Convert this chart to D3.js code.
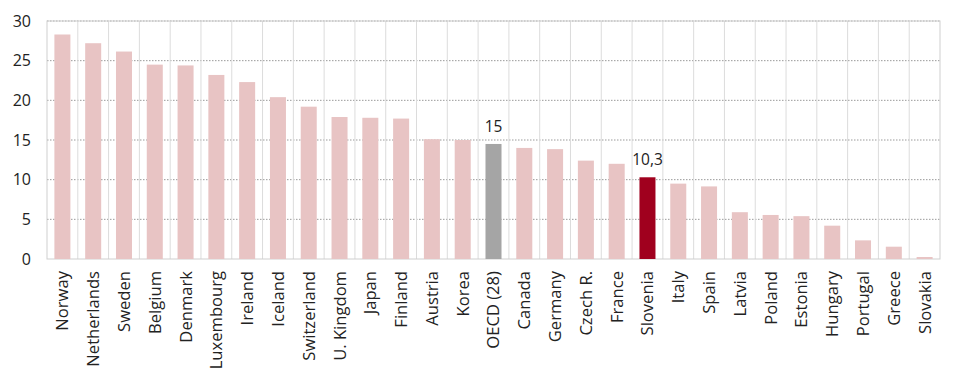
<!DOCTYPE html>
<html><head><meta charset="utf-8">
<script src="https://cdn.jsdelivr.net/npm/d3@7"></script>
<style>body{margin:0;background:#fff}text{font-family:"Open Sans","Noto Sans",sans-serif;fill:#222}</style>
</head><body><svg id="c" width="960" height="381"></svg>
<script>
const categories = ["Norway","Netherlands","Sweden","Belgium","Denmark","Luxembourg","Ireland","Iceland","Switzerland","U. Kingdom","Japan","Finland","Austria","Korea","OECD (28)","Canada","Germany","Czech R.","France","Slovenia","Italy","Spain","Latvia","Poland","Estonia","Hungary","Portugal","Greece","Slovakia"];
const values = [28.3,27.2,26.15,24.5,24.4,23.2,22.3,20.4,19.2,17.9,17.8,17.7,15.1,15.0,14.5,14.0,13.85,12.4,12.0,10.3,9.5,9.15,5.9,5.55,5.4,4.2,2.35,1.55,0.25];
const yTicks = [0,5,10,15,20,25,30];
const highlight = {"OECD (28)":{color:"#a5a5a5",label:"15"},"Slovenia":{color:"#a0001e",label:"10,3"}};

const svg = d3.select("#c");
const m = {l:47, r:20, t:21, b:122};
const W = 960, H = 381;
const x = d3.scaleBand().domain(categories).range([m.l, W-m.r]).paddingInner(0.48).paddingOuter(0.24);
const y = d3.scaleLinear().domain([0,30]).range([H-m.b, m.t]);

// horizontal dotted gridlines
svg.append("g").selectAll("line").data(yTicks.filter(d=>d>0)).join("line")
  .attr("x1", m.l).attr("x2", W-m.r).attr("y1", d=>y(d)).attr("y2", d=>y(d))
  .attr("stroke","#9a9a9a").attr("stroke-width",1).attr("stroke-dasharray","1.5,1.5");
// vertical separators
const gap = (x.step()-x.bandwidth())/2;
svg.append("g").selectAll("line").data(categories.slice(1)).join("line")
  .attr("x1", d=>x(d)-gap).attr("x2", d=>x(d)-gap)
  .attr("y1", m.t).attr("y2", H-m.b).attr("stroke","#dcdcdc");
// border
svg.append("rect").attr("x",m.l).attr("y",m.t).attr("width",W-m.r-m.l).attr("height",H-m.b-m.t)
  .attr("fill","none").attr("stroke","#cfcfcf");

// bars
svg.append("g").selectAll("rect").data(categories).join("rect")
  .attr("x", d=>x(d)).attr("width", x.bandwidth())
  .attr("y", (d,i)=>y(values[i])).attr("height",(d,i)=>y(0)-y(values[i]))
  .attr("fill", d=>highlight[d]?highlight[d].color:"#e8c4c4");

// value labels
svg.append("g").selectAll("text").data(categories.filter(d=>highlight[d])).join("text")
  .attr("x", d=>x(d)+x.bandwidth()/2).attr("y", d=>y(values[categories.indexOf(d)])-12)
  .attr("text-anchor","middle").attr("font-size",15.5).text(d=>highlight[d].label);

// y axis labels
svg.append("g").selectAll("text").data(yTicks).join("text")
  .attr("x", 31).attr("y", d=>y(d)).attr("dy","0.36em").attr("text-anchor","end")
  .attr("font-size",16).text(d=>d);

// x labels
svg.append("g").selectAll("text").data(categories).join("text")
  .attr("transform", d=>`translate(${x(d)+x.bandwidth()/2},${H-m.b+12}) rotate(-90)`)
  .attr("text-anchor","end").attr("dy","0.36em").attr("font-size",16.6).text(d=>d);
</script></body></html>
